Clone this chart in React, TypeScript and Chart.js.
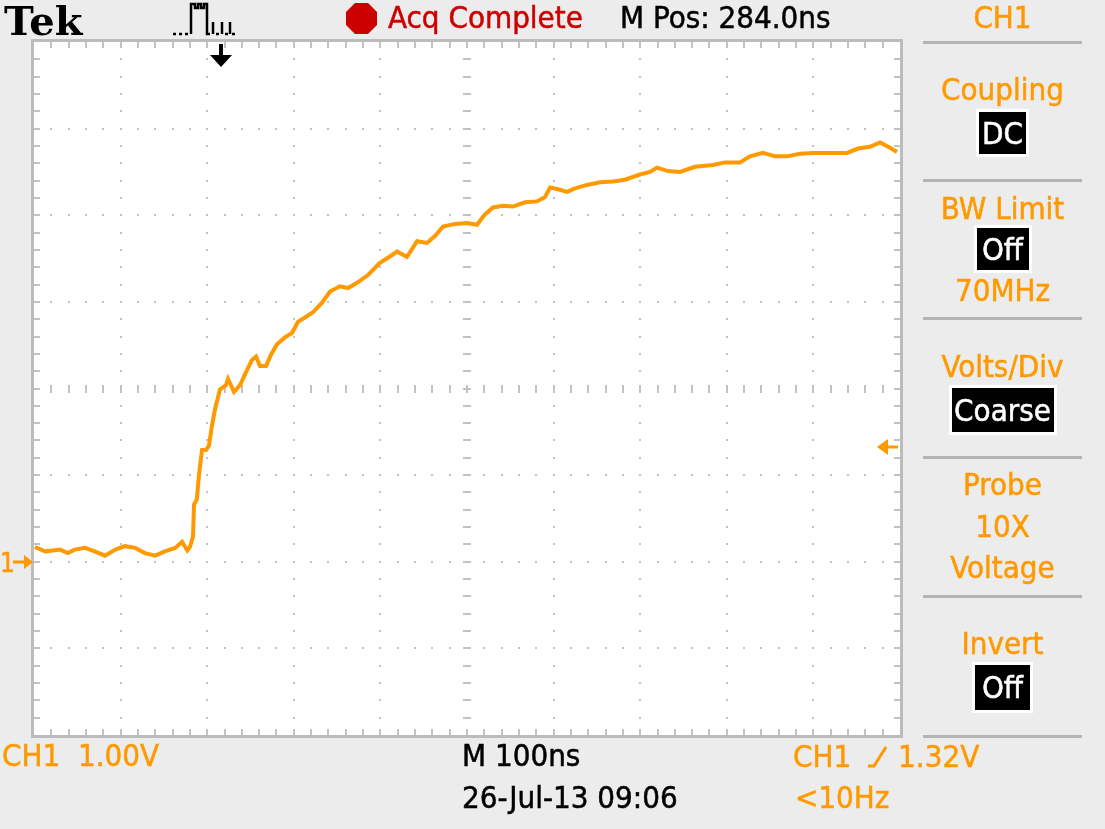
import React, { useEffect, useRef } from "react";
import { Chart, registerables } from "chart.js";

Chart.register(...registerables);

// ---- Data (time in ns from left edge of screen, CH1 voltage in V) ----
const timeNs = [
  1, 13, 22, 30, 39, 47, 59, 70, 82, 94, 105, 117, 128, 140, 151, 163, 171, 177, 180, 183.6,
  184.8, 188, 190.5, 194, 198.6, 202, 205.5, 209, 214.8, 221.7, 224, 230.9, 237.9, 244.8, 251.7,
  256.4, 261, 267.9, 273.7, 280.6, 289.8, 297.9, 304.8, 312.9, 322.2, 332.6, 341.8, 353.3, 362.6,
  373, 385.7, 399.5, 408.8, 419.2, 430.7, 442.3, 453.8, 463, 472.3, 486.1, 500, 511.5, 520.8, 530,
  541.6, 553.1, 567, 580.8, 590.1, 595.8, 605.1, 615.5, 624.7, 638.6, 653.6, 668.6, 682.4, 699.8,
  711.3, 719.4, 732.1, 746, 763.3, 784.1, 798, 815.2, 826.8, 841.8, 855.7, 869.5, 884.5, 899.5,
  919.2, 938.8, 951.5, 965.4, 977, 988.5, 996.5,
];
const volts = [
  0.17, 0.12, 0.13, 0.14, 0.1, 0.14, 0.16, 0.12, 0.07, 0.14, 0.18, 0.16, 0.1, 0.07, 0.12, 0.16, 0.23, 0.13, 0.17, 0.29,
  0.66, 0.72, 1.0, 1.29, 1.29, 1.34, 1.57, 1.76, 1.99, 2.04, 2.11, 1.96, 2.04, 2.19, 2.33,
  2.37, 2.26, 2.26, 2.39, 2.51, 2.59, 2.64, 2.77, 2.82, 2.88, 2.99, 3.12, 3.18, 3.16,
  3.22, 3.31, 3.45, 3.51, 3.58, 3.52, 3.7, 3.68, 3.76, 3.87, 3.9, 3.91, 3.89, 4.01, 4.09,
  4.11, 4.1, 4.15, 4.16, 4.21, 4.32, 4.3, 4.27, 4.31, 4.35, 4.38, 4.39, 4.41, 4.47,
  4.5, 4.55, 4.51, 4.5, 4.56, 4.58, 4.61, 4.61, 4.68, 4.72, 4.68, 4.68, 4.71, 4.72,
  4.72, 4.72, 4.77, 4.79, 4.84, 4.78, 4.73,
];

const X_MIN_NS = 0;
const X_MAX_NS = 1000;
const Y_MIN_V = -2;
const Y_MAX_V = 6;
const NS_PER_DIV = 100;
const V_PER_DIV = 1;
const triggerPositionNs = [216];
const triggerLevelV = [1.32];
const groundLevelV = [0];

const headerTexts = ["Acq Complete", "M Pos: 284.0ns"];
const footerTexts = ["CH1  1.00V", "M 100ns", "26-Jul-13 09:06", "<10Hz"];

const ORANGE = "#ff9900";
const GRID = "#c2c2c2";
const FONT = "'DejaVu Sans Condensed', 'Liberation Sans Narrow', sans-serif";
const FS = 31;

const graticulePlugin = {
  id: "graticule",
  beforeDatasetsDraw(chart: any) {
    const { ctx, chartArea: a, scales } = chart;
    const xs = scales.x;
    const ys = scales.y;
    const px = (t: number) => Math.round(xs.getPixelForValue(t));
    const py = (v: number) => Math.round(ys.getPixelForValue(v));
    ctx.save();
    ctx.fillStyle = "#ffffff";
    ctx.fillRect(a.left, a.top, a.right - a.left, a.bottom - a.top);
    ctx.fillStyle = GRID;
    const xDivs = (X_MAX_NS - X_MIN_NS) / NS_PER_DIV;
    const yDivs = (Y_MAX_V - Y_MIN_V) / V_PER_DIV;
    const xCenter = xDivs / 2;
    const yCenter = yDivs / 2;
    for (let d = 1; d < xDivs; d++) {
      const x = px(X_MIN_NS + d * NS_PER_DIV);
      for (let k = 1; k < yDivs * 5; k++) {
        const y = py(Y_MIN_V + (k * V_PER_DIV) / 5);
        if (d === xCenter) ctx.fillRect(x - 4, y - 1, 8, 2);
        else ctx.fillRect(x - 1, y - 1, 2, 2);
      }
    }
    for (let d = 1; d < yDivs; d++) {
      const y = py(Y_MIN_V + d * V_PER_DIV);
      for (let k = 1; k < xDivs * 5; k++) {
        const x = px(X_MIN_NS + (k * NS_PER_DIV) / 5);
        if (d === yCenter) ctx.fillRect(x - 1, y - 4, 2, 8);
        else ctx.fillRect(x - 1, y - 1, 2, 2);
      }
    }
    for (let k = 1; k < xDivs * 5; k++) {
      const x = px(X_MIN_NS + (k * NS_PER_DIV) / 5);
      ctx.fillRect(x - 1, a.top, 2, 6);
      ctx.fillRect(x - 1, a.bottom - 6, 2, 6);
    }
    for (let k = 1; k < yDivs * 5; k++) {
      const y = py(Y_MIN_V + (k * V_PER_DIV) / 5);
      ctx.fillRect(a.left, y - 1, 6, 2);
      ctx.fillRect(a.right - 6, y - 1, 6, 2);
    }
    ctx.strokeStyle = "#bcbcbc";
    ctx.lineWidth = 3;
    ctx.strokeRect(a.left - 1.5, a.top - 1.5, a.right - a.left + 3, a.bottom - a.top + 3);
    ctx.restore();
  },
  afterDatasetsDraw(chart: any) {
    const { ctx, chartArea: a, scales } = chart;
    const xs = scales.x;
    const ys = scales.y;
    ctx.save();
    triggerPositionNs.forEach((t) => {
      const x = Math.round(xs.getPixelForValue(t));
      ctx.fillStyle = "#000";
      ctx.fillRect(x - 2, a.top + 2, 4, 13);
      ctx.beginPath();
      ctx.moveTo(x - 11, a.top + 13);
      ctx.lineTo(x + 11, a.top + 13);
      ctx.lineTo(x, a.top + 25);
      ctx.closePath();
      ctx.fill();
    });
    triggerLevelV.forEach((v) => {
      const y = Math.round(ys.getPixelForValue(v));
      ctx.fillStyle = ORANGE;
      ctx.fillRect(a.right - 14, y - 1.5, 12, 3);
      ctx.beginPath();
      ctx.moveTo(a.right - 23, y);
      ctx.lineTo(a.right - 12, y - 8);
      ctx.lineTo(a.right - 12, y + 8);
      ctx.closePath();
      ctx.fill();
    });
    groundLevelV.forEach((v) => {
      const y = Math.round(ys.getPixelForValue(v));
      ctx.fillStyle = ORANGE;
      ctx.fillRect(a.left - 21, y - 1.5, 13, 3);
      ctx.beginPath();
      ctx.moveTo(a.left - 1, y);
      ctx.lineTo(a.left - 10, y - 7);
      ctx.lineTo(a.left - 10, y + 7);
      ctx.closePath();
      ctx.fill();
    });
    ctx.restore();
  },
};

type TxtProps = {
  x?: number;
  cy: number;
  size?: number;
  color?: string;
  center?: boolean;
  bold?: boolean;
  family?: string;
  children: React.ReactNode;
};

function Txt({ x = 0, cy, size = FS, color = "#000", center, bold, family, children }: TxtProps) {
  return (
    <div
      style={{
        position: "absolute",
        left: center ? 923 : x,
        width: center ? 159 : undefined,
        textAlign: center ? "center" : "left",
        top: cy - size / 2,
        fontSize: size,
        lineHeight: `${size}px`,
        color,
        whiteSpace: "pre",
        fontFamily: family || FONT,
        fontWeight: bold ? 700 : 400,
        WebkitTextStroke: bold ? undefined : `0.5px ${color}`,
      }}
    >
      {children}
    </div>
  );
}

function Box({ top, w, h, children }: { top: number; w: number; h: number; children: React.ReactNode }) {
  return (
    <div
      style={{
        position: "absolute",
        left: 1002.5 - w / 2,
        top,
        width: w,
        height: h,
        background: "#000",
        color: "#fff",
        boxShadow: "0 0 0 3px #fff",
        display: "flex",
        alignItems: "center",
        justifyContent: "center",
        fontFamily: FONT,
        fontSize: FS,
        lineHeight: `${FS}px`,
        WebkitTextStroke: "0.5px #fff",
      }}
    >
      {children}
    </div>
  );
}

function Sep({ y }: { y: number }) {
  return <div style={{ position: "absolute", left: 923, top: y - 1.5, width: 159, height: 3, background: "#b4b4b4" }} />;
}

export default function App() {
  const canvasRef = useRef<HTMLCanvasElement | null>(null);

  useEffect(() => {
    document.body.style.margin = "0";
    const canvas = canvasRef.current;
    if (!canvas) return;
    const chart = new Chart(canvas, {
      type: "line",
      data: {
        datasets: [
          {
            label: "CH1",
            data: timeNs.map((t, i) => ({ x: t, y: volts[i] })),
            borderColor: ORANGE,
            borderWidth: 4,
            pointRadius: 0,
            tension: 0,
            fill: false,
          },
        ],
      },
      options: {
        animation: false,
        responsive: false,
        devicePixelRatio: 1,
        layout: { padding: { left: 34, top: 42, right: 205, bottom: 94 } },
        plugins: { legend: { display: false }, tooltip: { enabled: false }, title: { display: false } },
        scales: {
          x: { type: "linear", min: X_MIN_NS, max: X_MAX_NS, display: false },
          y: { type: "linear", min: Y_MIN_V, max: Y_MAX_V, display: false },
        },
      },
      plugins: [graticulePlugin],
    });
    return () => chart.destroy();
  }, []);

  return (
    <div style={{ position: "relative", width: 1105, height: 829, background: "#ececec", overflow: "hidden" }}>
      <canvas ref={canvasRef} width={1105} height={829} style={{ position: "absolute", left: 0, top: 0 }} />

      {/* header */}
      <Txt x={4} cy={21} size={40} bold family="'DejaVu Serif', 'Liberation Serif', serif">Tek</Txt>
      <svg style={{ position: "absolute", left: 168, top: 0 }} width={70} height={40}>
        <path
          d="M5 34 h3 M11 34 h3 M17 34 h3 M23 34 V4 h4 v4 h3 v-4 h3 v4 h3 v-4 h3 V34 h3 M45 34 V22 M48 34 h3 M54 34 V22 M57 34 h3 M62 34 V22 M64 34 h3"
          stroke="#000"
          strokeWidth={2.5}
          fill="none"
        />
      </svg>
      <svg style={{ position: "absolute", left: 345, top: 2 }} width={34} height={34}>
        <polygon points="10,1 23,1 32,10 32,23 23,32 10,32 1,23 1,10" fill="#cc0000" />
      </svg>
      <Txt x={388} cy={17} color="#cc0000">{headerTexts[0]}</Txt>
      <Txt x={620} cy={17}>{headerTexts[1]}</Txt>

      <Txt x={0} cy={563} size={26} color={ORANGE}>1</Txt>

      {/* right panel */}
      <Txt center cy={17} color={ORANGE}>CH1</Txt>
      <Sep y={42} />
      <Txt center cy={89} color={ORANGE}>Coupling</Txt>
      <Box top={112} w={47} h={42}>DC</Box>
      <Sep y={180} />
      <Txt center cy={208} color={ORANGE}>BW Limit</Txt>
      <Box top={228} w={52} h={42}>Off</Box>
      <Txt center cy={290} color={ORANGE}>70MHz</Txt>
      <Sep y={318} />
      <Txt center cy={366} color={ORANGE}>Volts/Div</Txt>
      <Box top={388} w={102} h={44}>Coarse</Box>
      <Sep y={457} />
      <Txt center cy={484} color={ORANGE}>Probe</Txt>
      <Txt center cy={526} color={ORANGE}>10X</Txt>
      <Txt center cy={567} color={ORANGE}>Voltage</Txt>
      <Sep y={596} />
      <Txt center cy={643} color={ORANGE}>Invert</Txt>
      <Box top={665} w={55} h={45}>Off</Box>
      <Sep y={736} />

      {/* footer */}
      <Txt x={2} cy={755} color={ORANGE}>{footerTexts[0]}</Txt>
      <Txt x={462} cy={755}>{footerTexts[1]}</Txt>
      <Txt x={462} cy={797}>{footerTexts[2]}</Txt>
      <div style={{ position: "absolute", left: 793, top: 740, height: 31, display: "flex", alignItems: "center", color: ORANGE, fontFamily: FONT, fontSize: FS, whiteSpace: "pre", WebkitTextStroke: `0.5px ${ORANGE}` }}>
        <span>CH1 </span>
        <svg width={26} height={26} style={{ margin: "0 6px" }}>
          <path d="M2 23 h6 L20 4" stroke={ORANGE} strokeWidth={3} fill="none" />
        </svg>
        <span>1.32V</span>
      </div>
      <Txt x={795} cy={797} color={ORANGE}>{footerTexts[3]}</Txt>
    </div>
  );
}
